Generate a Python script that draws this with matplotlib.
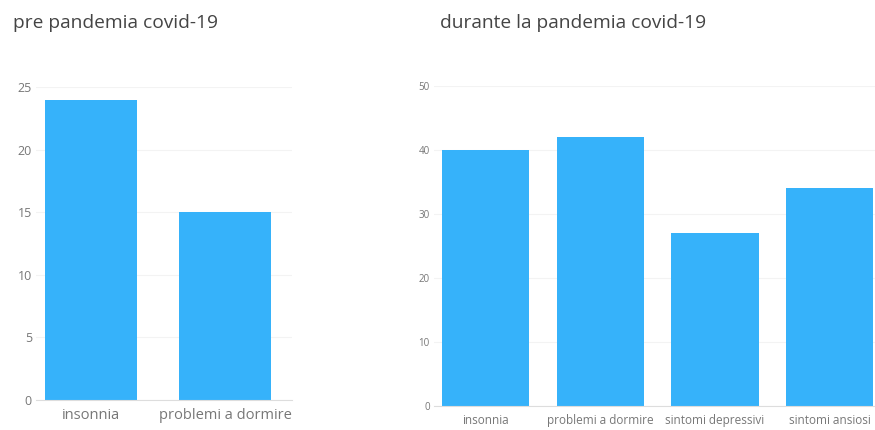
import matplotlib
matplotlib.use("Agg")
from matplotlib import pyplot as plt

# before the pandemic
pre_labels = ["insonnia", "problemi a dormire"]
pre_values = [24, 15]
pre_yticks = [0, 5, 10, 15, 20, 25]

# during the pandemic
during_labels = ["insonnia", "problemi a dormire", "sintomi depressivi", "sintomi ansiosi"]
during_values = [40, 42, 27, 34]
during_yticks = [0, 10, 20, 30, 40, 50]

BAR_COLOR = "#36b2fa"
TITLE_COLOR = "#444444"
TICK_COLOR = "#777777"

plt.rcParams['font.family'] = ['Open Sans', 'DejaVu Sans']

W, H = 875, 430
fig = plt.figure(figsize=(W / 100, H / 100), dpi=100)


def px_axes(left, top, right, bottom):
    # axes box given in pixel coordinates (origin top-left)
    return fig.add_axes([left / W, 1 - bottom / H, (right - left) / W, (bottom - top) / H])


def style(ax, yticks, xlabel_size, ylabel_size):
    ax.set_ylim(yticks[0], yticks[-1])
    ax.set_yticks(yticks)
    for side in ("top", "right", "left"):
        ax.spines[side].set_visible(False)
    ax.spines["bottom"].set_color("#dddddd")
    ax.spines["bottom"].set_linewidth(0.8)
    ax.tick_params(axis="both", length=0, colors=TICK_COLOR)
    ax.tick_params(axis="x", labelsize=xlabel_size, pad=6)
    ax.tick_params(axis="y", labelsize=ylabel_size, pad=3)
    ax.grid(axis="y", color="#f3f3f3", linewidth=0.8)
    ax.set_axisbelow(True)


ax1 = px_axes(36, 87, 292, 400)
ax1.bar(range(len(pre_values)), pre_values, width=0.69, color=BAR_COLOR)
ax1.set_xticks(range(len(pre_labels)))
ax1.set_xticklabels(pre_labels)
ax1.set_xlim(-0.41, 1.5)
style(ax1, pre_yticks, 10.5, 9)
fig.text(13 / W, 1 - 23 / H, "pre pandemia covid-19", fontsize=13.8,
         color=TITLE_COLOR, va="center", ha="left")

ax2 = px_axes(434, 86, 887, 406)
ax2.bar(range(len(during_values)), during_values, width=0.76, color=BAR_COLOR)
ax2.set_xticks(range(len(during_labels)))
ax2.set_xticklabels(during_labels)
ax2.set_xlim(-0.45, 3.5)
style(ax2, during_yticks, 8.5, 7)
fig.text(440 / W, 1 - 23 / H, "durante la pandemia covid-19", fontsize=13.8,
         color=TITLE_COLOR, va="center", ha="left")

fig.savefig("out.png", dpi=100, facecolor="white")
